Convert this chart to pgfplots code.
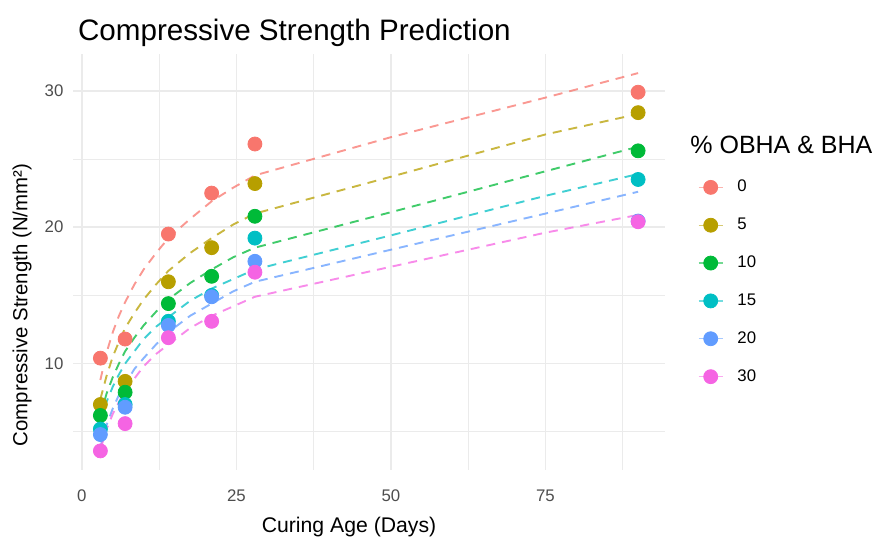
\documentclass[border=0pt]{standalone}
\usepackage{fontspec}
\setmainfont{Liberation Sans}
\usepackage{pgfplots}
\usepackage{pgfplotstable}
\pgfplotsset{compat=1.18}
\definecolor{c0}{HTML}{F8766D}
\definecolor{c5}{HTML}{B79F00}
\definecolor{c10}{HTML}{00BA38}
\definecolor{c15}{HTML}{00BFC4}
\definecolor{c20}{HTML}{619CFF}
\definecolor{c30}{HTML}{F564E3}
\definecolor{gridc}{HTML}{EBEBEB}
\definecolor{tickc}{HTML}{4D4D4D}

% observed points
\pgfplotstableread{
x y
3 10.4
7 11.8
14 19.5
21 22.5
28 26.1
90 29.9
}\ptA
\pgfplotstableread{
x y
3 7.0
7 8.7
14 16.0
21 18.5
28 23.2
90 28.4
}\ptB
\pgfplotstableread{
x y
3 6.2
7 7.9
14 14.4
21 16.4
28 20.8
90 25.6
}\ptC
\pgfplotstableread{
x y
3 5.2
7 7.0
14 13.1
21 15.0
28 19.2
90 23.5
}\ptD
\pgfplotstableread{
x y
3 4.8
7 6.8
14 12.8
21 14.9
28 17.5
90 20.45
}\ptE
\pgfplotstableread{
x y
3 3.6
7 5.6
14 11.9
21 13.1
28 16.7
90 20.4
}\ptF

% predicted curves
\pgfplotstableread{
x y
3 8.8
4 10.8
5 12.3
6 13.5
7 14.5
8.5 15.8
10 16.9
12 18.1
14 19.2
17.5 20.6
21 21.9
24.5 22.9
28 23.8
50 26.6
75 29.5
90 31.3
}\lnA
\pgfplotstableread{
x y
3 7.4
4 9.1
5 10.5
6 11.6
7 12.6
8.5 13.7
10 14.7
12 15.8
14 16.8
17.5 18.1
21 19.2
24.5 20.2
28 21.0
50 23.7
75 26.8
90 28.3
}\lnB
\pgfplotstableread{
x y
3 6.2
4 7.8
5 9.0
6 10.0
7 10.9
8.5 11.9
10 12.8
12 13.8
14 14.7
17.5 15.9
21 16.9
24.5 17.8
28 18.5
50 21.1
75 24.1
90 25.9
}\lnC
\pgfplotstableread{
x y
3 5.7
4 7.2
5 8.3
6 9.2
7 10.0
8.5 10.9
10 11.8
12 12.7
14 13.4
17.5 14.6
21 15.5
24.5 16.2
28 16.9
50 19.4
75 22.3
90 23.9
}\lnD
\pgfplotstableread{
x y
3 3.9
4 5.5
5 6.7
6 7.7
7 8.5
8.5 9.6
10 10.4
12 11.4
14 12.3
17.5 13.5
21 14.4
24.5 15.3
28 16.0
50 18.35
75 21.0
90 22.6
}\lnE
\pgfplotstableread{
x y
3 3.7
4 5.2
5 6.3
6 7.2
7 8.0
8.5 8.9
10 9.8
12 10.7
14 11.4
17.5 12.6
21 13.5
24.5 14.2
28 14.9
50 17.1
75 19.6
90 20.9
}\lnF

\begin{document}
\begin{tikzpicture}
\path[use as bounding box] (-36.75pt,-37pt) rectangle (401.75pt,235pt);
\begin{axis}[
  at={(0pt,0pt)}, anchor=south west,
  scale only axis, width=295.75pt, height=208pt,
  xmin=-1.35, xmax=94.35, ymin=2.2, ymax=32.7,
  xtick={0,25,50,75}, ytick={10,20,30},
  minor xtick={12.5,37.5,62.5,87.5}, minor ytick={5,15,25},
  grid=both,
  major grid style={color=gridc, line width=0.85pt},
  minor grid style={color=gridc, line width=0.45pt},
  axis line style={draw=none}, tick style={draw=none},
  /pgf/number format/assume math mode=true,
  ticklabel style={font=\fontsize{8.4}{10}\selectfont, text=tickc},
  xticklabel style={yshift=-6.5pt},
  yticklabel style={xshift=-1.5pt},
  title={Compressive Strength Prediction},
  title style={at={(axis description cs:-0.0042,1.022)}, anchor=west, font=\fontsize{14.8}{17}\selectfont},
  xlabel={Curing Age (Days)},
  ylabel={Compressive Strength (N/mm²)},
  every axis x label/.style={at={(axis description cs:0.4658,-0.137)}, anchor=center, font=\fontsize{10.6}{12}\selectfont},
  every axis y label/.style={at={(axis description cs:-0.0871,0.3966)}, anchor=center, rotate=90, font=\fontsize{10.2}{12}\selectfont},
  legend cell align=left,
  legend style={at={(axis description cs:1.0558,0.7043)}, anchor=north west,
    draw=none, fill=none, inner sep=0pt, outer sep=0pt,
    row sep=8.6pt, font=\fontsize{8.4}{10}\selectfont,
    nodes={inner sep=1.5pt},
    /tikz/every odd column/.append style={column sep=5.5pt}},
  legend image code/.code={
    \draw[solid, line width=0.7pt, opacity=0.55] (0pt,0pt) -- (12pt,0pt);
    \fill (6pt,0pt) circle (3.5pt);
  },
]
\pgfplotsset{cl/.style={forget plot, dash pattern=on 4.5pt off 3.5pt, line width=0.95pt, opacity=0.75}}
\addplot[cl, color=c0] table {\lnA};
\addplot[cl, color=c5] table {\lnB};
\addplot[cl, color=c10] table {\lnC};
\addplot[cl, color=c15] table {\lnD};
\addplot[cl, color=c20] table {\lnE};
\addplot[cl, color=c30] table {\lnF};
\pgfplotsset{pt/.style={only marks, mark=*, mark size=3.5pt}}
\addplot[pt, color=c0, mark options={fill=c0, draw=c0}] table {\ptA};
\addlegendentry{0}
\addplot[pt, color=c5, mark options={fill=c5, draw=c5}] table {\ptB};
\addlegendentry{5}
\addplot[pt, color=c10, mark options={fill=c10, draw=c10}] table {\ptC};
\addlegendentry{10}
\addplot[pt, color=c15, mark options={fill=c15, draw=c15}] table {\ptD};
\addlegendentry{15}
\addplot[pt, color=c20, mark options={fill=c20, draw=c20}] table {\ptE};
\addlegendentry{20}
\addplot[pt, color=c30, mark options={fill=c30, draw=c30}] table {\ptF};
\addlegendentry{30}
\end{axis}
\node[anchor=west, font=\fontsize{12.5}{15}\selectfont, inner sep=0pt] at (308.25pt,162.5pt) {\% OBHA \& BHA};
\end{tikzpicture}
\end{document}
